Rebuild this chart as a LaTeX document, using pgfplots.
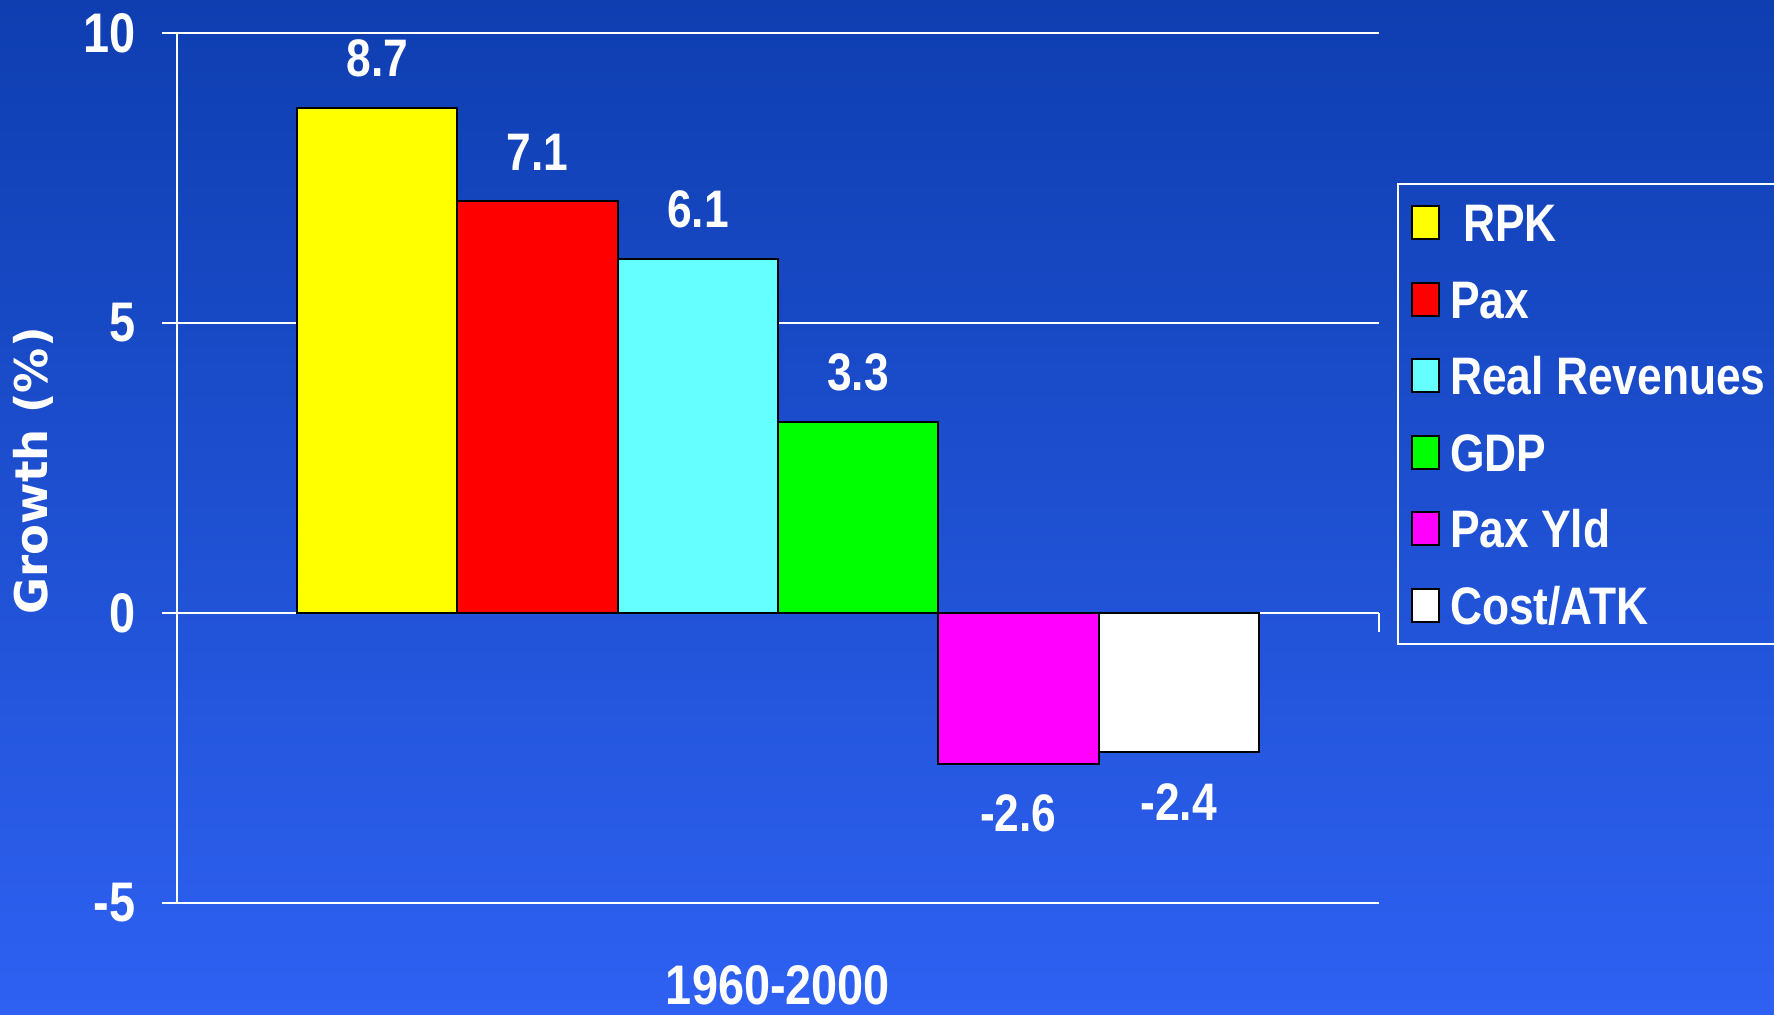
\documentclass[border=0pt]{standalone}
\usepackage{pgfplots}
\pgfplotsset{compat=1.18}
\usepackage{fontspec}
\setmainfont{Liberation Sans}[FakeStretch=0.84]
\newfontfamily\labfont{DejaVu Sans}

\definecolor{bgtop}{RGB}{14,62,176}
\definecolor{bgbot}{RGB}{46,97,242}
\definecolor{rpk}{RGB}{255,255,0}
\definecolor{pax}{RGB}{255,0,0}
\definecolor{rev}{RGB}{102,255,255}
\definecolor{gdp}{RGB}{0,255,0}
\definecolor{yld}{RGB}{255,0,255}
\definecolor{cost}{RGB}{255,255,255}

\begin{document}
\begin{tikzpicture}
% background, 1 px = 0.5bp
\shade[top color=bgtop, bottom color=bgbot, use as bounding box]
  (-88.5bp,-56bp) rectangle (798.5bp,451.5bp);
\begin{axis}[
  at={(0,0)}, anchor=south west,
  scale only axis, width=601bp, height=435bp,
  xmin=-3.75, xmax=3.75, ymin=-5, ymax=10,
  ytick={-5,0,5,10}, xtick={0}, xticklabels={1960-2000},
  axis lines*=left,
  axis line style={white, line width=1bp},
  tick align=outside,
  ytick style={white, line width=1bp},
  major tick length=7.5bp,
  xtick style={draw=none},
  ymajorgrids, grid style={white, line width=1bp},
  /pgf/number format/assume math mode=true,
  ticklabel style={text=white, font=\bfseries\fontsize{28}{30}\selectfont},
  yticklabel style={inner xsep=13bp, inner ysep=0pt},
  xticklabel style={anchor=north, inner sep=0pt, yshift=-23.5bp},
  ylabel={Growth (\%)},
  ylabel style={at={(axis description cs:-0.1198,0.4966)}, anchor=center,
    text=white, font=\labfont\bfseries\fontsize{22.6}{24}\selectfont},
  ybar, bar width=1, bar shift=0,
  every axis plot/.append style={draw=black, line width=1bp},
  nodes near coords,
  nodes near coords style={text=white, inner ysep=15bp,
    font=\bfseries\fontsize{26.5}{28}\selectfont,
    /pgf/number format/fixed, /pgf/number format/precision=1,
    /pgf/number format/fixed zerofill},
  legend image code/.code={\draw[#1, line width=1bp] (0bp,-8.25bp) rectangle (13.5bp,8.25bp);},
  legend style={at={(rel axis cs:1.015,0.8276)}, anchor=north west,
    draw=white, line width=1bp, fill=none, text=white,
    font=\bfseries\fontsize{26.5}{28}\selectfont,
    inner xsep=6.5bp, inner ysep=10bp, row sep=19.25bp,
    nodes={inner sep=0pt, text height=19bp, text depth=0pt},
    /tikz/every odd column/.style={column sep=5bp}},
  legend cell align=left,
  clip=false,
]
\addplot[fill=rpk]  coordinates {(-2.5,8.7)};
\addplot[fill=pax]  coordinates {(-1.5,7.1)};
\addplot[fill=rev]  coordinates {(-0.5,6.1)};
\addplot[fill=gdp]  coordinates {(0.5,3.3)};
\addplot[fill=yld]  coordinates {(1.5,-2.6)};
\addplot[fill=cost] coordinates {(2.5,-2.4)};
\legend{\hspace{6.5bp}RPK, Pax, Real Revenues, GDP, Pax Yld, Cost/ATK}
\draw[white, line width=1bp] (axis cs:-3.75,0) -- ++(0pt,-9.5bp);
\draw[white, line width=1bp] (axis cs:3.75,0) -- ++(0pt,-9.5bp);
\end{axis}
\end{tikzpicture}
\end{document}
